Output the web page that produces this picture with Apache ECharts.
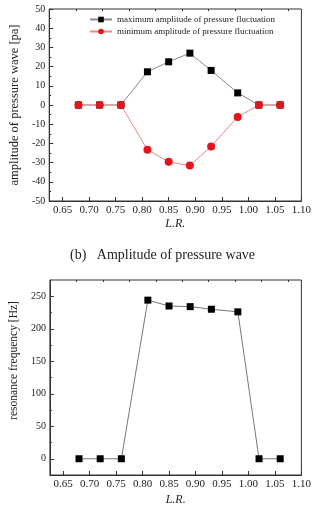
<!DOCTYPE html>
<html>
<head>
<meta charset="utf-8">
<script src="https://cdn.jsdelivr.net/npm/echarts@6/dist/echarts.min.js"></script>
<style>
  html, body { margin: 0; padding: 0; background: #fff; }
  #chart { width: 314px; height: 521px; }
</style>
</head>
<body>
<div id="chart"></div>
<script>
// data
const lrValues = [0.68, 0.72, 0.76, 0.81, 0.85, 0.89, 0.93, 0.98, 1.02, 1.06]
const maxAmplitude = [0, 0, 0, 17.3, 22.5, 27, 18, 6.3, 0, 0]
const minAmplitude = [0, 0, 0, -23.3, -29.6, -31.5, -21.6, -6.2, 0, 0]
const resonanceFreq = [0, 0, 0, 244, 235, 234, 230, 226, 0, 0]

// tick positions
const xMajorTicks = [0.65, 0.70, 0.75, 0.80, 0.85, 0.90, 0.95, 1.00, 1.05, 1.10]
const xMinorTicks = [0.675, 0.725, 0.775, 0.825, 0.875, 0.925, 0.975, 1.025, 1.075]
const freqMajorTicks = [0, 50, 100, 150, 200, 250]
const freqMinorTicks = [25, 75, 125, 175, 225]

const font = 'Liberation Serif'
const axisColor = '#333'

const pair = (xs, ys) => xs.map((x, i) => [x, ys[i]])

const mainX = (grid, name, gap) => ({
  type: 'value', gridIndex: grid, min: 0.625, max: 1.10,
  name: name, nameLocation: 'middle', nameGap: gap,
  nameTextStyle: { fontFamily: font, fontStyle: 'italic', fontSize: 12, color: '#222' },
  axisLine: { onZero: false, lineStyle: { color: axisColor } },
  axisTick: { inside: true, length: 4, customValues: xMajorTicks, lineStyle: { color: axisColor } },
  axisLabel: { customValues: xMajorTicks, formatter: v => v.toFixed(2), margin: 4,
    fontFamily: font, fontSize: 11, color: '#222', showMaxLabel: true },
  splitLine: { show: false }
})
const minorX = (grid) => ({
  type: 'value', gridIndex: grid, min: 0.625, max: 1.10,
  axisLine: { show: false, onZero: false },
  axisTick: { inside: true, length: 2, customValues: xMinorTicks, lineStyle: { color: axisColor } },
  axisLabel: { show: false },
  splitLine: { show: false }
})

const chart = echarts.init(document.getElementById('chart'))

const option = {
  animation: false,
  backgroundColor: '#fff',
  title: {
    text: '(b)   Amplitude of pressure wave',
    left: 65, top: 243,
    textStyle: { fontFamily: font, fontSize: 14, fontWeight: 'normal', color: '#222' }
  },
  legend: {
    orient: 'vertical',
    left: 84, top: 10,
    itemWidth: 22, itemHeight: 7, itemGap: 3,
    textStyle: { fontFamily: font, fontSize: 9, color: '#222' },
    data: [
      { name: 'maximum amplitude of pressure fluctuation', lineStyle: { color: '#8a8a8a' } },
      { name: 'minimum amplitude of pressure fluctuation', lineStyle: { color: '#e38a8a' } }
    ]
  },
  grid: [
    { left: 42, right: 11, top: 9, height: 192, show: true, borderColor: axisColor, borderWidth: 1 },
    { left: 38, right: 7, top: 280, height: 195, show: true, borderColor: axisColor, borderWidth: 1 }
  ],
  xAxis: [
    mainX(0, 'L.R.', 17),
    minorX(0),
    mainX(1, 'L.R.', 19),
    minorX(1)
  ],
  yAxis: [
    {
      type: 'value', gridIndex: 0, min: -50, max: 50, interval: 10,
      name: 'amplitude of pressure wave [pa]', nameLocation: 'middle', nameGap: 28,
      nameTextStyle: { fontFamily: font, fontSize: 12.5, color: '#222' },
      axisLine: { onZero: false, lineStyle: { color: axisColor } },
      axisTick: { inside: true, length: 4, lineStyle: { color: axisColor } },
      minorTick: { show: true, splitNumber: 2, length: 2, lineStyle: { color: axisColor } },
      axisLabel: { margin: 4, fontFamily: font, fontSize: 10, color: '#222' },
      splitLine: { show: false }
    },
    {
      type: 'value', gridIndex: 1, min: -25, max: 275,
      name: 'resonance frequency [Hz]', nameLocation: 'middle', nameGap: 26,
      nameTextStyle: { fontFamily: font, fontSize: 11.5, color: '#222', padding: [0, 0, 0, 34] },
      axisLine: { onZero: false, lineStyle: { color: axisColor } },
      axisTick: { inside: true, length: 4, customValues: freqMajorTicks, lineStyle: { color: axisColor } },
      axisLabel: { customValues: freqMajorTicks, margin: 4, fontFamily: font, fontSize: 10, color: '#222' },
      splitLine: { show: false }
    },
    {
      type: 'value', gridIndex: 1, min: -25, max: 275, position: 'left',
      axisLine: { show: false, onZero: false },
      axisTick: { inside: true, length: 2, customValues: freqMinorTicks, lineStyle: { color: axisColor } },
      axisLabel: { show: false },
      splitLine: { show: false }
    }
  ],
  series: [
    {
      name: 'maximum amplitude of pressure fluctuation',
      type: 'line', xAxisIndex: 0, yAxisIndex: 0,
      data: pair(lrValues, maxAmplitude),
      symbol: 'rect', symbolSize: 7,
      itemStyle: { color: '#000' },
      lineStyle: { color: '#8a8a8a', width: 1 }
    },
    {
      name: 'minimum amplitude of pressure fluctuation',
      type: 'line', xAxisIndex: 0, yAxisIndex: 0,
      data: pair(lrValues, minAmplitude),
      symbol: 'circle', symbolSize: 8,
      itemStyle: { color: '#e3141c' },
      lineStyle: { color: '#e38a8a', width: 1 }
    },
    {
      name: 'resonance frequency',
      type: 'line', xAxisIndex: 2, yAxisIndex: 1,
      data: pair(lrValues, resonanceFreq),
      symbol: 'rect', symbolSize: 7,
      itemStyle: { color: '#000' },
      lineStyle: { color: '#777', width: 1 }
    }
  ]
}

chart.setOption(option)
</script>
</body>
</html>
